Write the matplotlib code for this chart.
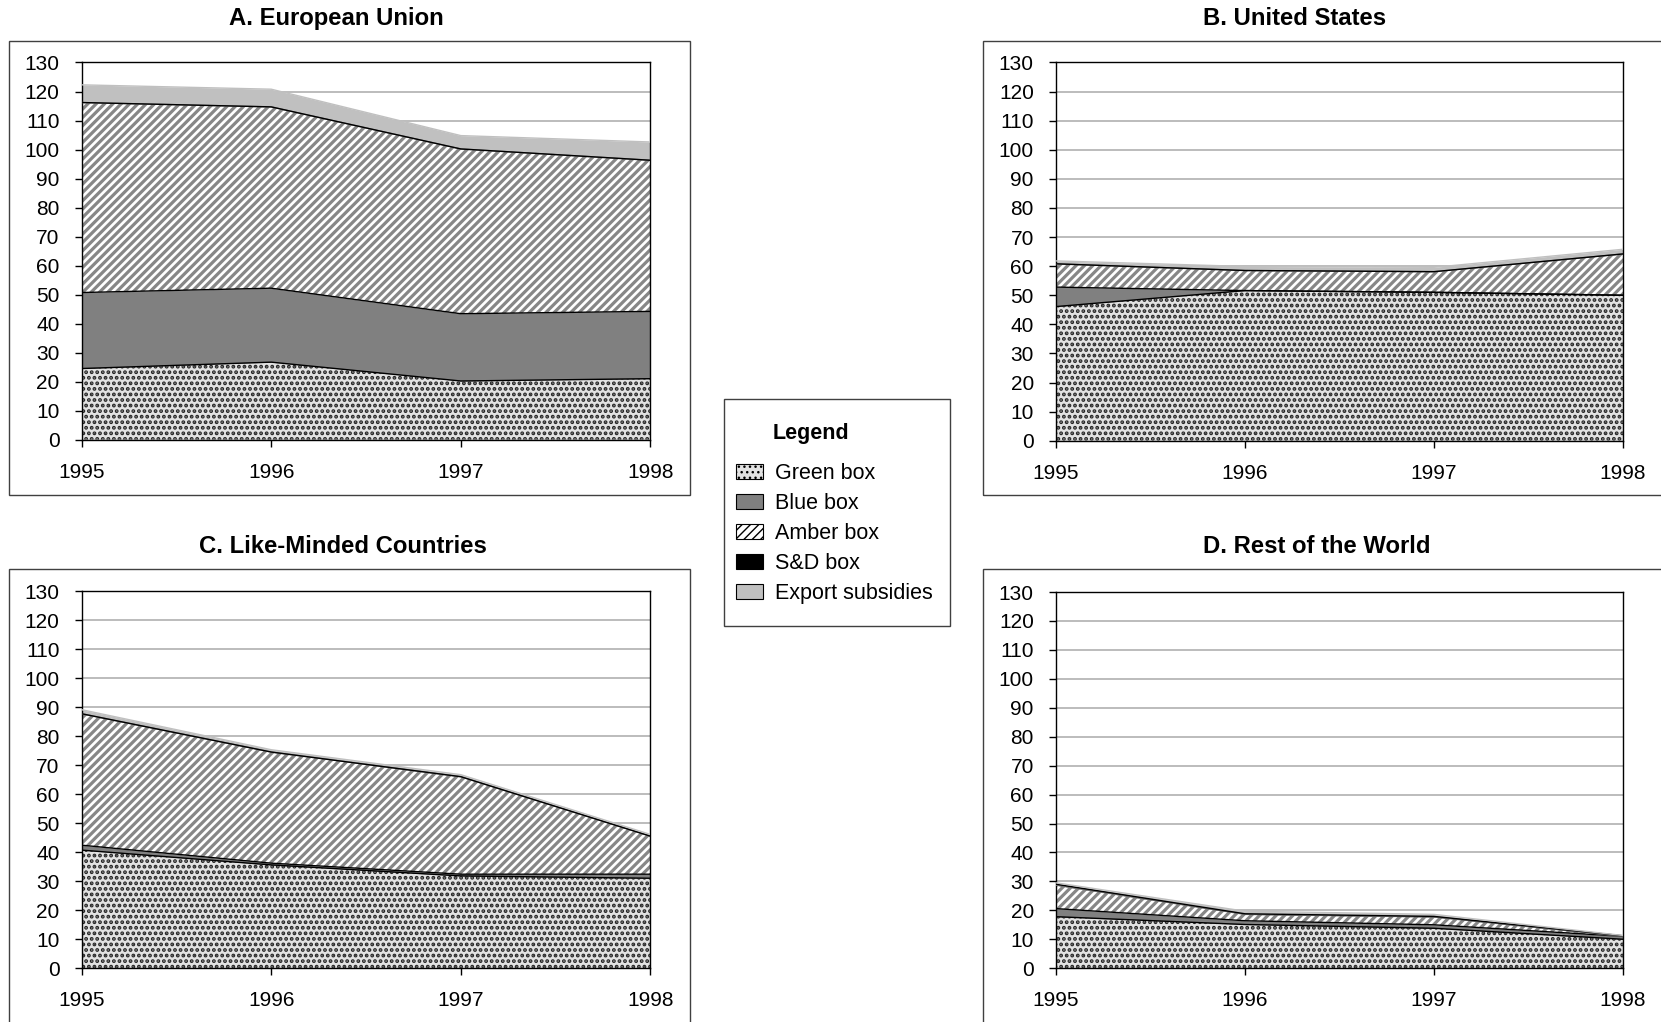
import numpy as np
import matplotlib
matplotlib.use("Agg")
import matplotlib.pyplot as plt
from matplotlib.patches import Rectangle

plt.rcParams['font.family'] = ['Liberation Sans', 'DejaVu Sans']

years = [1995, 1996, 1997, 1998]
series_names = ['Green box', 'Blue box', 'Amber box', 'S&D box', 'Export subsidies']

# A. European Union
eu_green = [24.5, 26.7, 20.2, 21.0]
eu_blue = [26.2, 25.5, 23.2, 23.2]
eu_amber = [65.5, 62.5, 56.8, 52.1]
eu_sd = [0.0, 0.0, 0.0, 0.0]
eu_export = [6.1, 6.1, 4.6, 6.3]

# B. United States
us_green = [46.1, 51.6, 51.0, 50.0]
us_blue = [6.7, 0.0, 0.0, 0.0]
us_amber = [8.0, 6.9, 7.1, 14.2]
us_sd = [0.0, 0.0, 0.0, 0.0]
us_export = [1.0, 1.4, 1.5, 1.6]

# C. Like-Minded Countries
lm_green = [40.7, 35.6, 31.8, 31.0]
lm_blue = [1.7, 0.6, 0.6, 1.4]
lm_amber = [45.3, 38.3, 33.6, 13.1]
lm_sd = [0.0, 0.0, 0.0, 0.0]
lm_export = [1.4, 0.8, 0.7, 0.6]

# D. Rest of the World
row_green = [17.8, 15.1, 13.8, 10.0]
row_blue = [2.8, 1.3, 1.2, 1.0]
row_amber = [8.1, 2.2, 2.7, 0.0]
row_sd = [0.3, 0.2, 0.2, 0.2]
row_export = [0.5, 0.9, 0.7, 0.1]

y_ticks = list(range(0, 131, 10))

W, H = 1661, 1022
fig = plt.figure(figsize=(W / 100, H / 100), dpi=100)

# fill styles: (face, hatch, hatch colour, hatch lw, boundary line colour)
styles = [
  ('#e2e2e2', '...', '#262626', 1.9, 'black'),
  ('#808080', None, '#808080', 1.0, 'black'),
  ('white', '////', '#878787', 2.3, '#808080'),
  ('black', None, 'black', 1.0, 'black'),
  ('#c0c0c0', None, '#c0c0c0', 1.0, '#c0c0c0'),
]


def px(x0, y0, x1, y1):
  # pixel box -> figure fraction rect
  return [x0 / W, 1 - y1 / H, (x1 - x0) / W, (y1 - y0) / H]


def draw_panel(rect, title, title_xy, frame, layers):
  fig.patches.append(Rectangle((frame[0] / W, 1 - frame[3] / H),
                               (frame[2] - frame[0]) / W, (frame[3] - frame[1]) / H,
                               transform=fig.transFigure, fill=False,
                               edgecolor='#404040', lw=1.0))
  fig.text(title_xy[0] / W, 1 - title_xy[1] / H, title, ha='center', va='center',
           fontsize=17.2, fontweight='bold')
  ax = fig.add_axes(px(*rect))
  x = np.arange(len(years))
  bottom = np.zeros(len(years))
  handles = []
  for vals, (face, hatch, hcol, hlw, lcol) in zip(layers, styles):
    top = bottom + np.array(vals)
    with plt.rc_context({'hatch.linewidth': hlw}):
      h = ax.fill_between(x, bottom, top, facecolor=face, hatch=hatch,
                          edgecolor=hcol, linewidth=0, zorder=2)
    ax.plot(x, top, color=lcol, lw=1.0, zorder=3)
    handles.append(h)
    bottom = top
  ax.set_xlim(0, len(years) - 1)
  ax.set_ylim(0, 130)
  ax.set_yticks(y_ticks)
  ax.set_xticks(x)
  ax.set_xticklabels([str(y) for y in years])
  ax.tick_params(labelsize=15, length=5, width=1, pad=11, direction='out')
  ax.tick_params(axis='x', pad=11.5)
  ax.yaxis.grid(True, color='#b0b0b0', lw=1.2)
  ax.set_axisbelow(True)
  for s in ax.spines.values():
    s.set_linewidth(1.0)
    s.set_color('black')
  ax.set_zorder(1)
  return handles


hs = draw_panel((81.6, 62.5, 650.4, 439.6), 'A. European Union', (336, 18.5),
                (8.5, 41.3, 689.6, 494.7),
                [eu_green, eu_blue, eu_amber, eu_sd, eu_export])
draw_panel((1056, 62.5, 1623, 440.7), 'B. United States', (1294.5, 18.5),
           (983, 41.3, 1700, 494.7),
           [us_green, us_blue, us_amber, us_sd, us_export])
draw_panel((81.6, 591, 650.4, 968.2), 'C. Like-Minded Countries', (343, 546),
           (8.5, 568.8, 689.6, 1060),
           [lm_green, lm_blue, lm_amber, lm_sd, lm_export])
draw_panel((1056, 592, 1623, 968.2), 'D. Rest of the World', (1316.7, 546),
           (983, 568.8, 1700, 1060),
           [row_green, row_blue, row_amber, row_sd, row_export])

# legend box
fig.patches.append(Rectangle((723.5 / W, 1 - 626 / H), (950.2 - 723.5) / W, (626 - 399.4) / H,
                             transform=fig.transFigure, fill=False,
                             edgecolor='#404040', lw=1.0))
fig.text(811.4 / W, 1 - 433 / H, 'Legend', ha='center', va='center',
         fontsize=15.5, fontweight='bold')
leg = fig.legend(hs, series_names, loc='upper left',
                 bbox_to_anchor=(736 / W, 1 - 463 / H),
                 frameon=False, fontsize=15.5, borderpad=0, borderaxespad=0,
                 handlelength=1.25, handleheight=0.7, handletextpad=0.55,
                 labelspacing=0.42)
for p in leg.get_patches():
  p.set_linewidth(0.8)
  p.set_edgecolor('black')

fig.savefig('out.png', dpi=100)
